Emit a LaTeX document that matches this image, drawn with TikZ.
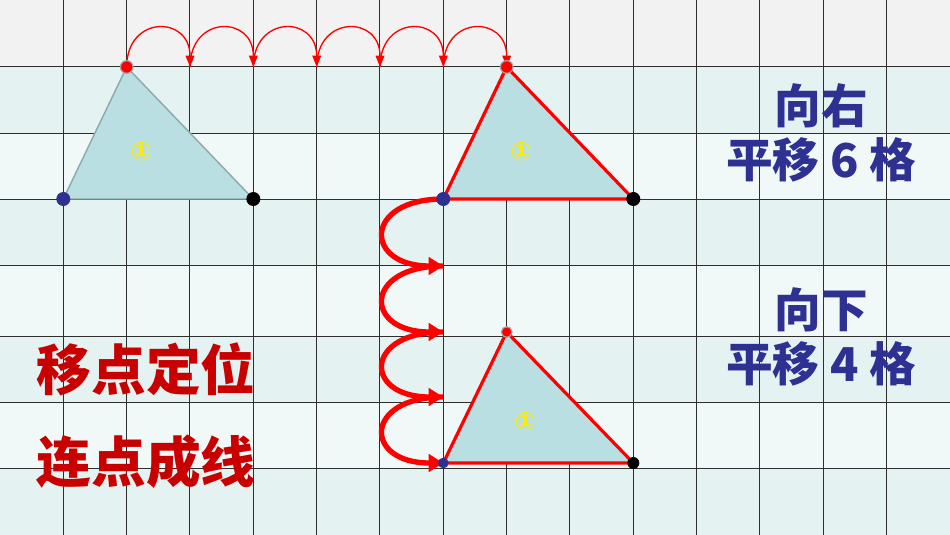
\documentclass[tikz,border=0pt]{standalone}
\usepackage{fontspec}
\newfontfamily\cjk{Noto Sans CJK SC}
\newfontfamily\symb{DejaVu Sans}
\usetikzlibrary{arrows.meta, positioning}

\definecolor{topband}{HTML}{F2F2F2}
\definecolor{rowA}{HTML}{E4F2F2}
\definecolor{rowB}{HTML}{F0F8F8}
\definecolor{shade}{HTML}{B9DFE2}
\definecolor{edgegrey}{HTML}{8FAAAC}
\definecolor{navy}{HTML}{2E3192}
\definecolor{deepred}{HTML}{C80000}

\begin{document}
\begin{tikzpicture}[x=0.75pt, y=-0.75pt,
  gridline/.style={draw=black!82, line width=0.75pt},
  tri/.style={fill=shade, draw=edgegrey, line width=1.1pt, line join=round},
  moved/.style={fill=shade, draw=red, line width=2.4pt, line join=round},
  dot/.style={circle, inner sep=0pt, minimum size=10.5pt},
  reddot/.style={dot, fill=red, draw=gray!70, line width=0.9pt, minimum size=9.5pt},
  bluedot/.style={dot, fill=navy},
  blackdot/.style={dot, fill=black},
  tag/.style={font=\symb\bfseries\fontsize{19}{19}\selectfont, text=yellow!95!orange},
  hop/.style={draw=red, line width=1pt, -{Triangle[length=8.5pt, width=6.5pt]}},
  jump/.style={draw=red, line width=4pt, -{Triangle[length=11pt, width=13pt]}},
  note/.style={font=\cjk\bfseries\fontsize{35}{41}\selectfont, text=navy, align=center},
  slogan/.style={font=\cjk\bfseries\fontsize{41}{69}\selectfont, text=deepred, align=center}
]
% background and grid
\useasboundingbox (0,0) rectangle (950,535);
\fill[topband] (0,0) rectangle (950,67);
\foreach \ya/\yb/\c in {67/133/rowA, 133/199/rowB, 199/265/rowA, 265/336/rowB,
                        336/402/rowA, 402/468/rowB, 468/535/rowA}
  \fill[\c] (0,\ya) rectangle (950,\yb);
\foreach \i in {1,...,14}
  \draw[gridline] ({63.33*\i},0) -- ({63.33*\i},535);
\foreach \y in {67,133,199,265,336,402,468}
  \draw[gridline] (0,\y) -- (950,\y);

% corner points of the three triangles
\coordinate (A1) at (126.7,67);  \coordinate (B1) at (63.3,199);  \coordinate (C1) at (253.3,199);
\coordinate (A2) at (506.7,67);  \coordinate (B2) at (443.3,199); \coordinate (C2) at (633.3,199);
\coordinate (A3) at (506.7,332); \coordinate (B3) at (443.3,463); \coordinate (C3) at (633.3,463);

\filldraw[tri] (A1) -- (B1) -- (C1) -- cycle;
\filldraw[moved] (A2) -- (B2) -- (C2) -- cycle;
\filldraw[moved] (A3) -- (B3) -- (C3) -- cycle;

% six steps to the right
\foreach \i in {0,...,6}
  \coordinate (h\i) at ({126.7+63.33*\i},67);
\foreach \i in {0,...,5}{
  \pgfmathtruncatemacro\j{\i+1}
  \draw[hop] (h\i) .. controls +(0,-52) and +(0,-52) .. (h\j);
}

% four steps down
\coordinate (v0) at (443.3,199);
\coordinate (v1) at (443.3,266);
\coordinate (v2) at (443.3,332);
\coordinate (v3) at (443.3,397);
\coordinate (v4) at (443.3,463);
\foreach \i in {0,...,3}{
  \pgfmathtruncatemacro\j{\i+1}
  \draw[jump] (v\i) .. controls +(-80,0) and +(-80,0) .. (v\j);
}

% dots
\node[reddot] (a1) at (A1) {};
\node[bluedot] (b1) at (B1) {};
\node[blackdot] (c1) at (C1) {};
\node[reddot] (a2) at (A2) {};
\node[bluedot] (b2) at (B2) {};
\node[blackdot] (c2) at (C2) {};
\node[reddot, minimum size=8pt] (a3) at (A3) {};
\node[bluedot, minimum size=8pt] (b3) at (B3) {};
\node[blackdot, minimum size=9pt] (c3) at (C3) {};

% labels
\node[tag] (t1) at (141,152) {①};
\node[tag] (t2) at (521,152) {①};
\node[tag] (t3) at (525,422) {①};

\node[note] (right) at (821,133) {向右\\平移 6 格};
\node[note] (down) at (821,337) {向下\\平移 4 格};
\node[slogan] (rule) at (146,416) {移点定位\\连点成线};
\end{tikzpicture}
\end{document}
